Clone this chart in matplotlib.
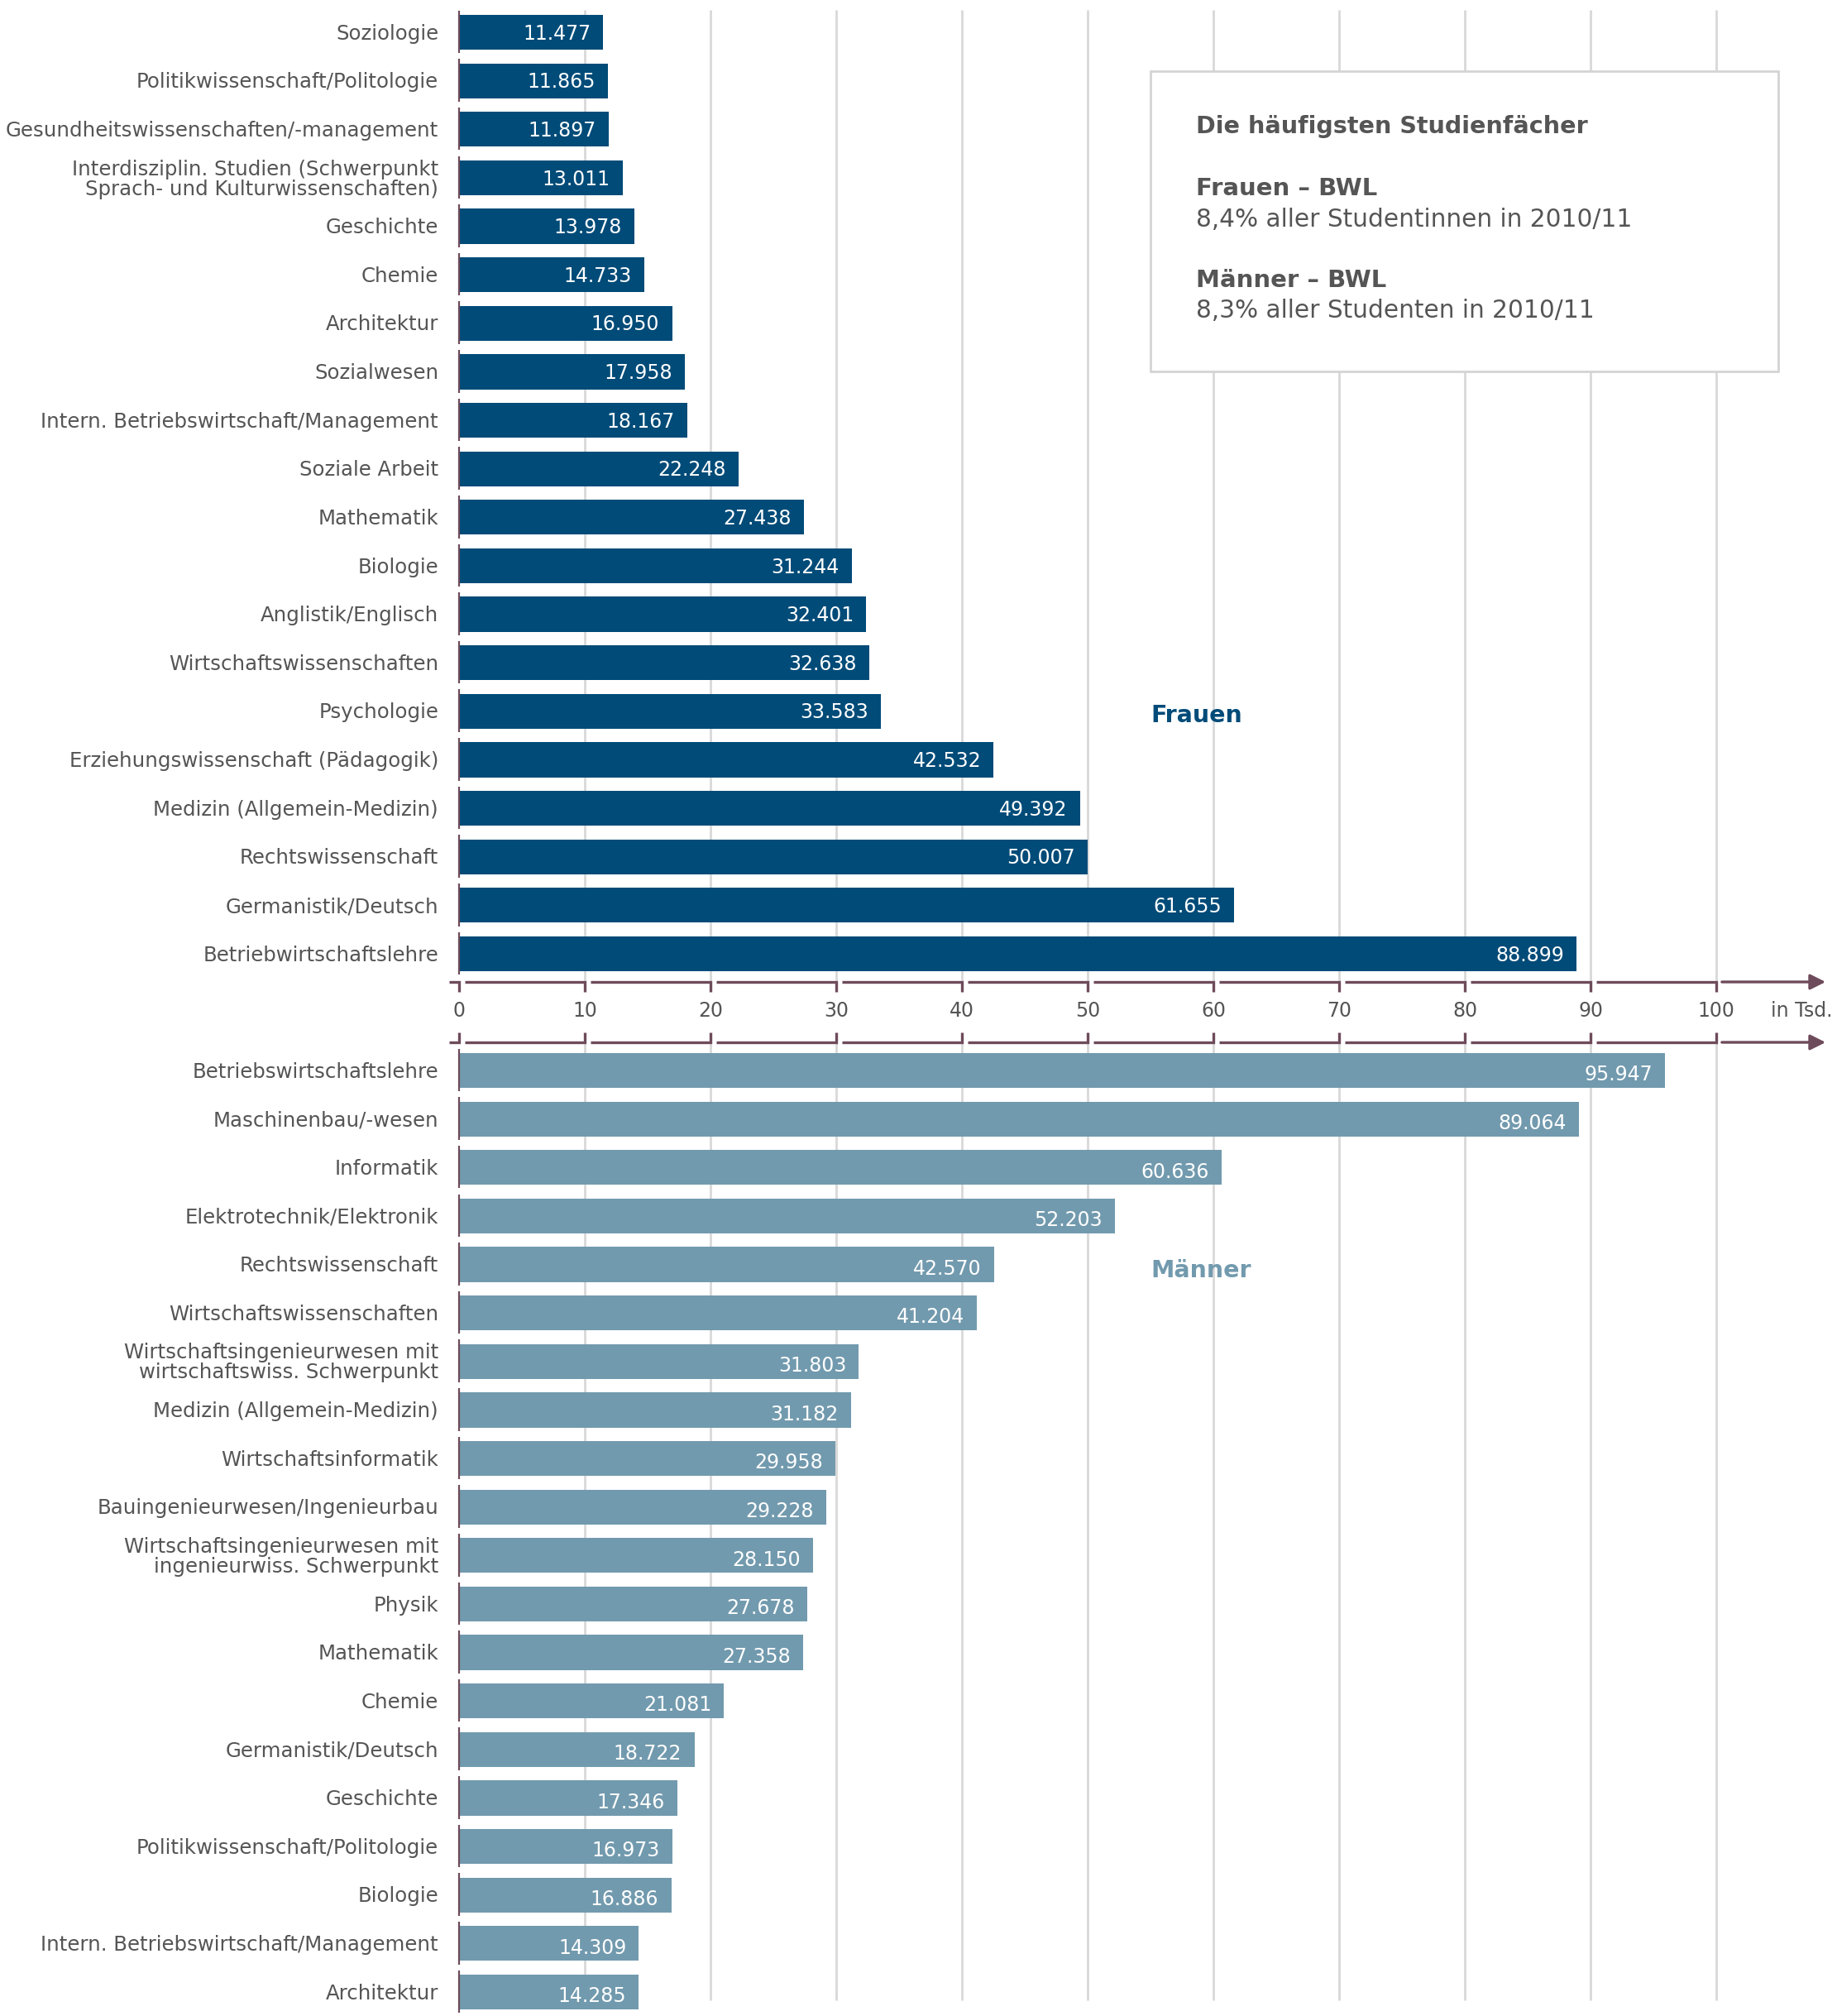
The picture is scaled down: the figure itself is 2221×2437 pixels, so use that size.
import matplotlib
matplotlib.use("Agg")
import matplotlib.pyplot as plt
from matplotlib.patches import Rectangle

# ---------------- data ----------------
frauen_labels = [
    "Soziologie",
    "Politikwissenschaft/Politologie",
    "Gesundheitswissenschaften/-management",
    "Interdisziplin. Studien (Schwerpunkt\nSprach- und Kulturwissenschaften)",
    "Geschichte",
    "Chemie",
    "Architektur",
    "Sozialwesen",
    "Intern. Betriebswirtschaft/Management",
    "Soziale Arbeit",
    "Mathematik",
    "Biologie",
    "Anglistik/Englisch",
    "Wirtschaftswissenschaften",
    "Psychologie",
    "Erziehungswissenschaft (Pädagogik)",
    "Medizin (Allgemein-Medizin)",
    "Rechtswissenschaft",
    "Germanistik/Deutsch",
    "Betriebwirtschaftslehre",
]
frauen_values = [11.477, 11.865, 11.897, 13.011, 13.978, 14.733, 16.950, 17.958,
                 18.167, 22.248, 27.438, 31.244, 32.401, 32.638, 33.583, 42.532,
                 49.392, 50.007, 61.655, 88.899]

maenner_labels = [
    "Betriebswirtschaftslehre",
    "Maschinenbau/-wesen",
    "Informatik",
    "Elektrotechnik/Elektronik",
    "Rechtswissenschaft",
    "Wirtschaftswissenschaften",
    "Wirtschaftsingenieurwesen mit\nwirtschaftswiss. Schwerpunkt",
    "Medizin (Allgemein-Medizin)",
    "Wirtschaftsinformatik",
    "Bauingenieurwesen/Ingenieurbau",
    "Wirtschaftsingenieurwesen mit\ningenieurwiss. Schwerpunkt",
    "Physik",
    "Mathematik",
    "Chemie",
    "Germanistik/Deutsch",
    "Geschichte",
    "Politikwissenschaft/Politologie",
    "Biologie",
    "Intern. Betriebswirtschaft/Management",
    "Architektur",
]
maenner_values = [95.947, 89.064, 60.636, 52.203, 42.570, 41.204, 31.803, 31.182,
                  29.958, 29.228, 28.150, 27.678, 27.358, 21.081, 18.722, 17.346,
                  16.973, 16.886, 14.309, 14.285]

x_ticks = [0, 10, 20, 30, 40, 50, 60, 70, 80, 90, 100]
unit_label = "in Tsd."

info_title = "Die häufigsten Studienfächer"
info_lines = [("Frauen – BWL", "8,4% aller Studentinnen in 2010/11"),
              ("Männer – BWL", "8,3% aller Studenten in 2010/11")]

# ---------------- style ----------------
C_F = "#004b78"
C_M = "#729aae"
C_TXT = "#555555"
C_AX = "#6e4b5b"
C_GRID = "#d8d8d8"
FS = 17
FS_LAB = 17.6

plt.rcParams["font.family"] = ["DejaVu Sans"]

W, H = 2221, 2437
fig = plt.figure(figsize=(W / 100, H / 100), dpi=100)

PXU = 15.2     # pixels per unit on x
X0 = 555       # pixel of x=0
XMAX = 109
S = 58.63      # pixel spacing of categories


def axpos(top_px, bottom_px):
    return [X0 / W, 1 - bottom_px / H, XMAX * PXU / W, (bottom_px - top_px) / H]


ax_f = fig.add_axes(axpos(0, 1187))
ax_m = fig.add_axes(axpos(1260, 2437))

ax_f.set_ylim((1187 - 39) / S, -39 / S)
ax_m.set_ylim((2437 - 1294) / S, -(1294 - 1260) / S)


def draw_panel(ax, labels, values, color, grid_from, grid_to, val_dy):
    ax.set_xlim(0, XMAX)
    ax.set_axis_off()
    n = len(labels)
    ys = list(range(n))
    ax.vlines(x_ticks[1:], grid_from, grid_to, colors=C_GRID, lw=2, zorder=0)
    ax.barh(ys, values, height=0.72, color=color, zorder=2)
    for y, v, lab in zip(ys, values, labels):
        ax.annotate(lab, xy=(0, y), xytext=(-18, -1.2), textcoords="offset points",
                    ha="right", va="center", fontsize=FS_LAB,
                    color=C_TXT, linespacing=1.0, annotation_clip=False)
        ax.annotate(f"{v:.3f}", xy=(v, y), xytext=(-11, val_dy),
                    textcoords="offset points", ha="right", va="center",
                    fontsize=FS, color="white", zorder=3)
        ax.plot([0, 0], [y - 0.45, y + 0.43], color=C_AX, lw=1.6,
                clip_on=False, zorder=4, solid_capstyle="butt")


draw_panel(ax_f, frauen_labels, frauen_values, C_F, -0.46, (1187 - 39) / S, -1.2)
draw_panel(ax_m, maenner_labels, maenner_values, C_M, -(1294 - 1260) / S,
           (2418 - 1294) / S, -3.8)


def draw_axis(ax, yfrac, tick_frac):
    tr = ax.get_xaxis_transform()
    segs = [(-0.8, 0)] + [(x_ticks[k] + 0.45, x_ticks[k + 1]) for k in range(len(x_ticks) - 1)]
    for a, b in segs:
        ax.plot([a, b, b], [yfrac, yfrac, yfrac + tick_frac], color=C_AX, lw=2.4,
                transform=tr, clip_on=False, solid_joinstyle="miter",
                solid_capstyle="butt", zorder=5)
    ax.annotate("", xy=(108.7, yfrac), xytext=(x_ticks[-1] + 0.45, yfrac),
                xycoords=tr, textcoords=tr, annotation_clip=False,
                arrowprops=dict(arrowstyle="-|>", color=C_AX, lw=2.4,
                                mutation_scale=28, shrinkA=0, shrinkB=0))


draw_axis(ax_f, 0, -12 / 1187)
draw_axis(ax_m, 1, 12 / (2437 - 1260))

# tick labels between the two axes
tr = ax_f.get_xaxis_transform()
yl = -(1222 - 1187) / 1187
for t in x_ticks:
    ax_f.text(t, yl, str(t), ha="center", va="center", fontsize=FS,
              color=C_TXT, transform=tr, clip_on=False)
ax_f.text(106.8, yl, unit_label, ha="center", va="center", fontsize=FS,
          color=C_TXT, transform=tr, clip_on=False)

# group labels
ax_f.text(55.0, 14.09, "Frauen", ha="left", va="center", fontsize=20.5,
          fontweight="bold", color=C_F)
ax_m.text(55.0, 4.12, "Männer", ha="left", va="center", fontsize=20.5,
          fontweight="bold", color=C_M)

# info box


def fx(px):
    return px / W


def fy(py):
    return 1 - py / H


box = Rectangle((fx(1391), fy(449)), fx(2150) - fx(1391), fy(86) - fy(449),
                transform=fig.transFigure, facecolor="white", edgecolor="#d4d4d4",
                lw=2, zorder=10)
fig.add_artist(box)
tx = fx(1446)
fig.text(tx, fy(153), info_title, ha="left", va="center", fontsize=20.6,
         fontweight="bold", color=C_TXT, zorder=11)
ys_info = [(228, 265), (339, 376)]
for (head, sub), (yh, ysub) in zip(info_lines, ys_info):
    fig.text(tx, fy(yh), head, ha="left", va="center", fontsize=21,
             fontweight="bold", color=C_TXT, zorder=11)
    fig.text(tx, fy(ysub), sub, ha="left", va="center", fontsize=21.3,
             color=C_TXT, zorder=11)

fig.savefig("out.png", dpi=100)
